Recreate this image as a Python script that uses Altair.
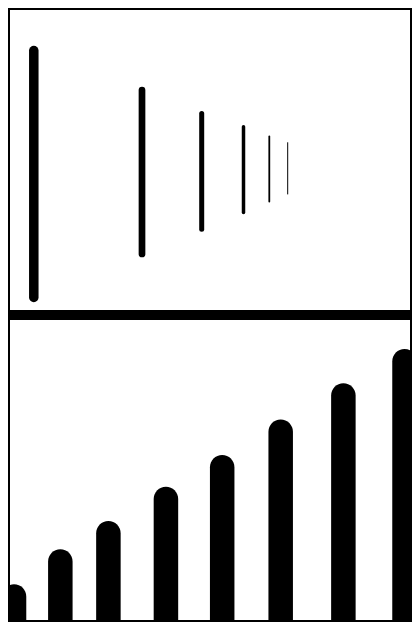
import altair as alt
import pandas as pd

# Top panel: receding vertical strokes
line_x = [23.8, 132.0, 191.7, 233.5, 259.3, 277.7]
line_y1 = [12.5, 56.0, 80.8, 97.5, 108.5, 116.0]
line_y2 = [259.5, 220.0, 196.5, 183.3, 173.5, 167.3]
line_w = [9.5, 6.7, 5.0, 3.5, 1.8, 1.0]

# Bottom panel: rising rounded bars
bar_x = [-1.0, 46.5, 95.8, 154.8, 212.5, 272.5, 336.8, 399.5]
bar_h = [35.7, 70.7, 99.0, 133.3, 165.0, 200.5, 236.7, 271.0]

lines = pd.DataFrame({"x": line_x, "y1": line_y1, "y2": line_y2, "w": line_w})
bars = pd.DataFrame({"x": bar_x, "h": bar_h})

xs = alt.Scale(domain=[0, 400], nice=False, zero=False)
ys = alt.Scale(domain=[0, 300], nice=False, zero=False)

top = alt.Chart(lines).mark_rule(color="black", strokeCap="round").encode(
    x=alt.X("x:Q", scale=xs, axis=None),
    y=alt.Y("y1:Q", scale=ys, axis=None),
    y2="y2:Q",
    strokeWidth=alt.StrokeWidth("w:Q", scale=None, legend=None),
).properties(width=400, height=300)

bottom = alt.Chart(bars).mark_bar(
    color="black", size=24.5, clip=True, orient="vertical",
    cornerRadiusTopLeft=12.25, cornerRadiusTopRight=12.25,
).encode(
    x=alt.X("x:Q", scale=xs, axis=None),
    y=alt.Y("h:Q", scale=ys, axis=None, stack=None),
    y2=alt.datum(0),
).properties(width=400, height=300)

chart = alt.vconcat(top, bottom, spacing=10).properties(
    background="black",
    padding={"left": 2, "top": 2, "right": 2, "bottom": 2},
).resolve_scale(x="independent", y="independent").configure_view(
    fill="white", strokeWidth=0
)

chart.save("out.html", embed_options={"renderer": "svg", "actions": False})
